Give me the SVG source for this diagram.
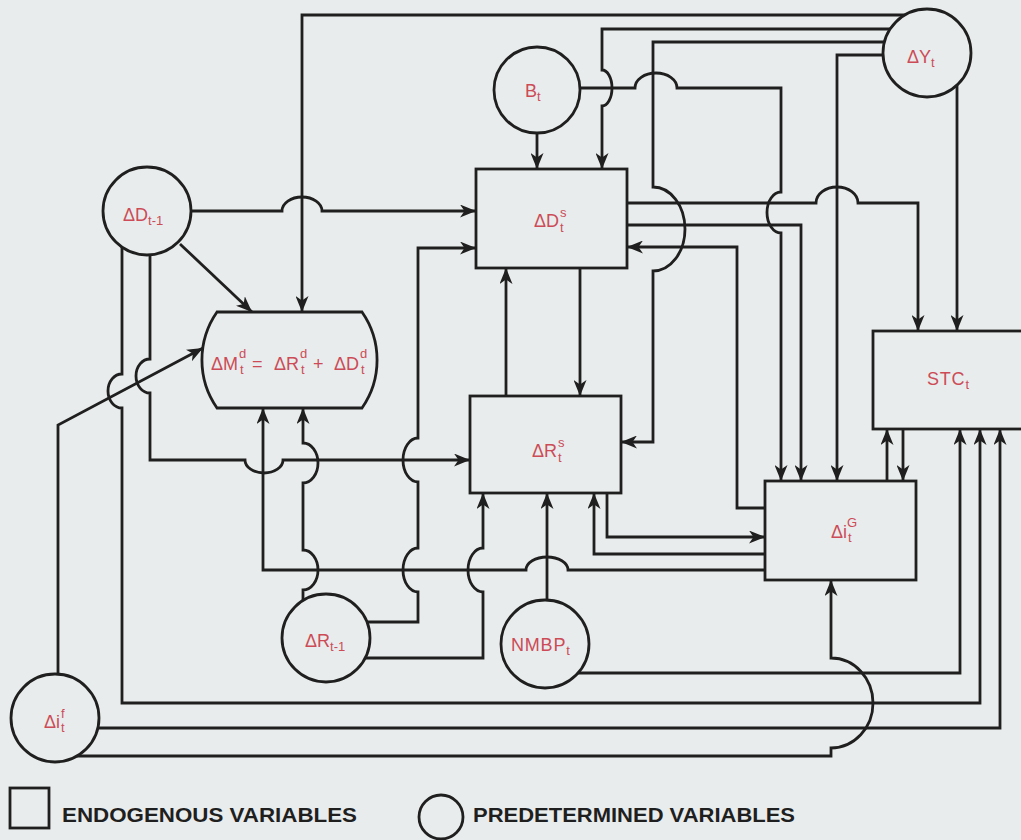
<svg xmlns="http://www.w3.org/2000/svg" width="1021" height="840" viewBox="0 0 1021 840">
<style>
.bg{fill:#e9ecec}
.ln{fill:none;stroke:#1f1f1f;stroke-width:2.8;stroke-linejoin:miter}
.ar{marker-end:url(#arr)}
.nd{fill:#e9ecec;stroke:#1f1f1f;stroke-width:2.8}
.t{font-family:"Liberation Sans",Arial,sans-serif;font-size:18px;fill:#cc4b57}
.s{font-size:13px}
.lg{font-family:"Liberation Sans",Arial,sans-serif;font-size:21px;font-weight:bold;fill:#1f1f1f}
</style>
<defs>
<marker id="arr" markerUnits="userSpaceOnUse" markerWidth="17" markerHeight="13" refX="16" refY="6.5" orient="auto">
<path d="M0,0 L16,6.5 L0,13 L4.5,6.5 Z" fill="#1f1f1f"/>
</marker>
</defs>
<rect class="bg" x="0" y="0" width="1021" height="840"/>

<g id="connectors">
<path class="ln ar" d="M905,15 H302 V312"/>
<path class="ln ar" d="M891,29 H602 V70 A10 18 0 0 1 602 106 V169"/>
<path class="ln ar" d="M884,42 H653 V187 A32 42 0 0 1 653 271 V442 H621"/>
<path class="ln ar" d="M883,55 H837 V481"/>
<path class="ln ar" d="M957,85 V331"/>
<path class="ln ar" d="M537,133 V169"/>
<path class="ln ar" d="M580,88 H635 A21 15 0 0 1 677 88 H781 V192 A14 20.5 0 0 0 781 233 V481"/>
<path class="ln ar" d="M627,203 H816 A21 16 0 0 1 858 203 H918 V331"/>
<path class="ln ar" d="M627,225 H801 V481"/>
<path class="ln ar" d="M765,508 H737 V247 H627"/>
<path class="ln ar" d="M191,211 H282 A20 14 0 0 1 322 211 H476"/>
<path class="ln ar" d="M180,244 L252,312"/>
<path class="ln ar" d="M122,247 V374 A14 17 0 0 0 122 408 V703 H980 V429"/>
<path class="ln ar" d="M150,255 V359 A14 17 0 0 0 150 393 V460 H245 A19 13 0 0 0 283 460 H470"/>
<path class="ln ar" d="M58,674 V425 L203,348"/>
<path class="ln ar" d="M98,728 H1000 V429"/>
<path class="ln ar" d="M77,756 H831 V748 A42 45 0 0 0 831 658 V580"/>
<path class="ln ar" d="M578,673 H960 V429"/>
<path class="ln ar" d="M547,600 V493"/>
<path class="ln ar" d="M303,600 V590 A15 20 0 0 0 303 550 V483 A15 20 0 0 0 303 443 V408"/>
<path class="ln ar" d="M367,622 H418 V592 A15 22 0 0 1 418 548 V482 A15 22 0 0 1 418 438 V248 H476"/>
<path class="ln ar" d="M365,658 H483 V592 A15 22 0 0 1 483 548 V493"/>
<path class="ln ar" d="M765,570 H568 A21 13 0 0 0 526 570 H263 V408"/>
<path class="ln ar" d="M607,493 V537 H765"/>
<path class="ln ar" d="M765,554 H594 V493"/>
<path class="ln ar" d="M580,268 V396"/>
<path class="ln ar" d="M506,396 V268"/>
<path class="ln ar" d="M887,481 V429"/>
<path class="ln ar" d="M903,429 V481"/>
</g>

<g id="node-dY">
<circle class="nd" cx="927" cy="53" r="44"/>
<text class="t" x="907" y="63">ΔY<tspan class="s" dy="4">t</tspan></text>
</g>
<g id="node-B">
<circle class="nd" cx="537" cy="90" r="43"/>
<text class="t" x="525" y="97">B<tspan class="s" dy="4">t</tspan></text>
</g>
<g id="node-dDt1">
<circle class="nd" cx="147" cy="211" r="44"/>
<text class="t" x="123" y="221">ΔD<tspan class="s" dy="4">t-1</tspan></text>
</g>
<g id="node-dDs">
<rect class="nd" x="476" y="169" width="151" height="99"/>
<text class="t" x="534" y="227">ΔD</text>
<text class="t s" x="560" y="217">s</text>
<text class="t s" x="560" y="232">t</text>
</g>
<g id="node-dMd">
<path class="nd" d="M217,312 H362 A84 84 0 0 1 362 408 H217 A84 84 0 0 1 217 312 Z"/>
<text class="t" x="211" y="370">ΔM</text>
<text class="t s" x="239" y="358">d</text>
<text class="t s" x="240" y="374">t</text>
<text class="t" x="252" y="370">=</text>
<text class="t" x="274" y="370">ΔR</text>
<text class="t s" x="300" y="358">d</text>
<text class="t s" x="301" y="374">t</text>
<text class="t" x="313" y="370">+</text>
<text class="t" x="334" y="370">ΔD</text>
<text class="t s" x="360" y="358">d</text>
<text class="t s" x="361" y="374">t</text>
</g>
<g id="node-dRs">
<rect class="nd" x="470" y="396" width="151" height="97"/>
<text class="t" x="532" y="457">ΔR</text>
<text class="t s" x="558" y="447">s</text>
<text class="t s" x="558" y="462">t</text>
</g>
<g id="node-STC">
<rect class="nd" x="873" y="331" width="160" height="98"/>
<text class="t" x="927" y="385" letter-spacing="0.8">STC<tspan class="s" dy="4" letter-spacing="0">t</tspan></text>
</g>
<g id="node-diG">
<rect class="nd" x="765" y="481" width="151" height="99"/>
<text class="t" x="831" y="538">Δi</text>
<text class="t s" x="847" y="527" font-size="14">G</text>
<text class="t s" x="848" y="542">t</text>
</g>
<g id="node-dRt1">
<circle class="nd" cx="326" cy="638" r="44"/>
<text class="t" x="305" y="647">ΔR<tspan class="s" dy="4">t-1</tspan></text>
</g>
<g id="node-NMBP">
<circle class="nd" cx="545" cy="644" r="44"/>
<text class="t" x="511" y="651" letter-spacing="0.8">NMBP<tspan class="s" dy="4" letter-spacing="0">t</tspan></text>
</g>
<g id="node-dif">
<circle class="nd" cx="55" cy="718" r="44"/>
<text class="t" x="44" y="728">Δi</text>
<text class="t s" x="61" y="718">f</text>
<text class="t s" x="61" y="732">t</text>
</g>

<g id="legend">
<rect class="nd" x="10" y="788" width="39" height="40"/>
<text class="lg" x="62" y="822" textLength="295" lengthAdjust="spacingAndGlyphs">ENDOGENOUS  VARIABLES</text>
<circle class="nd" cx="441" cy="817" r="22"/>
<text class="lg" x="473" y="822" textLength="322" lengthAdjust="spacingAndGlyphs">PREDETERMINED  VARIABLES</text>
</g>
</svg>
